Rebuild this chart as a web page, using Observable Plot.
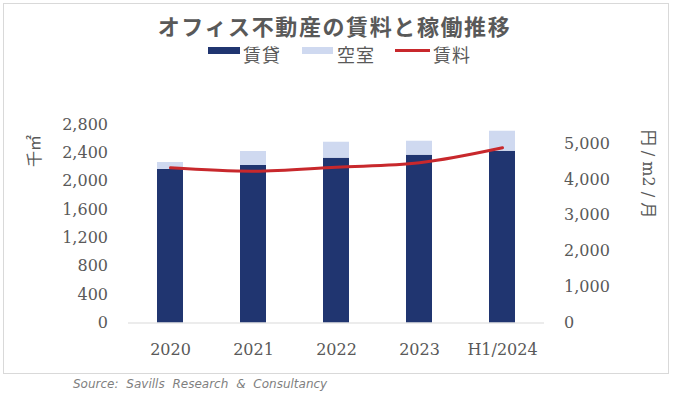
<!DOCTYPE html>
<html>
<head>
<meta charset="utf-8">
<script src="https://cdn.jsdelivr.net/npm/d3@7"></script>
<script src="https://cdn.jsdelivr.net/npm/@observablehq/plot@0.6"></script>
<style>
  html, body { margin: 0; padding: 0; background: #fff; }
  #wrap { position: relative; width: 674px; height: 398px; overflow: hidden; }
  #frame { position: absolute; left: 3px; top: 3px; width: 666px; height: 371px; box-sizing: border-box; border: 1px solid #d9d9d9; }
  .t { position: absolute; color: #595959; font-family: "Noto Sans CJK JP", sans-serif; white-space: nowrap; }
  #title { left: 0; width: 669px; top: 14px; text-align: center; font-size: 22px; line-height: 22px; font-weight: bold; letter-spacing: 1.6px; }
  .lg { font-size: 18px; line-height: 18px; top: 45px; letter-spacing: 1px; }
  .sw { position: absolute; }
  #chart { position: absolute; left: 0; top: 80px; }
  #ylab { left: 33px; top: 151px; font-size: 16px; transform: translate(-50%, -50%) rotate(-90deg); font-family: "DejaVu Serif", "Noto Sans CJK JP", serif; }
  #ylab2 { left: 650px; top: 174px; font-size: 16px; transform: translate(-50%, -50%) rotate(90deg); font-family: "DejaVu Serif", "Noto Sans CJK JP", serif; }
  #caption { left: 73px; top: 376px; font-family: "DejaVu Sans", sans-serif; font-style: italic; font-size: 12px; line-height: 16px; color: #7f7f7f; word-spacing: 4px; }
</style>
</head>
<body>
<div id="wrap">
  <div id="frame"></div>
  <div id="title" class="t">オフィス不動産の賃料と稼働推移</div>
  <div class="sw" style="left:208px;top:47px;width:32px;height:7px;background:#203570"></div>
  <div class="t lg" style="left:243px">賃貸</div>
  <div class="sw" style="left:302px;top:47px;width:31px;height:7px;background:#cfd9f0"></div>
  <div class="t lg" style="left:337px">空室</div>
  <div class="sw" style="left:395px;top:49px;width:35px;height:3px;background:#c8282c"></div>
  <div class="t lg" style="left:433px">賃料</div>
  <div id="chart"></div>
  <div id="ylab" class="t">千㎡</div>
  <div id="ylab2" class="t">円 / m2 / 月</div>
  <div id="caption" class="t">Source: Savills Research &amp; Consultancy</div>
</div>
<script>
// ---- data ----
const years = ["2020", "2021", "2022", "2023", "H1/2024"];
const leased = [2166, 2222, 2325, 2367, 2423];   // 賃貸 (千㎡)
const vacant = [98, 197, 225, 197, 282];        // 空室 (千㎡)
const rent = [4323, 4228, 4340, 4462, 4880];     // 賃料 (円/m2/月)
const leftTicks = [0, 400, 800, 1200, 1600, 2000, 2400, 2800];
const rightTicks = [0, 1000, 2000, 3000, 4000, 5000];
const seriesNames = ["賃貸", "空室", "賃料"];
const leftMax = 2800;
const rightMax = 5530;

// ---- build ----
const k = leftMax / rightMax;
const barRows = [];
years.forEach((y, i) => barRows.push({year: y, series: seriesNames[0], value: leased[i]}));
years.forEach((y, i) => barRows.push({year: y, series: seriesNames[1], value: vacant[i]}));
const rentRows = years.map((y, i) => ({year: y, rent: rent[i]}));
const fmt = d3.format(",");

const chart = Plot.plot({
  width: 674,
  height: 292,
  marginTop: 44,
  marginBottom: 49.5,
  marginLeft: 128,
  marginRight: 130,
  style: {fontFamily: "DejaVu Serif, serif", fontSize: "16px", color: "#595959", background: "transparent"},
  x: {domain: years, paddingInner: 0.69, paddingOuter: 0.345, tickSize: 0, tickPadding: 21, label: null},
  y: {domain: [0, leftMax], axis: null},
  color: {domain: seriesNames.slice(0, 2), range: ["#203570", "#cfd9f0"]},
  marks: [
    Plot.barY(barRows, {x: "year", y: "value", fill: "series", order: null}),
    Plot.ruleY([0], {stroke: "#d9d9d9", strokeWidth: 1}),
    Plot.line(rentRows, {x: "year", y: d => d.rent * k, stroke: "#c8282c", strokeWidth: 3, curve: "catmull-rom"}),
    Plot.text(leftTicks, {y: d => d, text: d => fmt(d), frameAnchor: "left", textAnchor: "end", dx: -20.5, fill: "#595959", fontSize: 16}),
    Plot.text(rightTicks, {y: d => d * k, text: d => fmt(d), frameAnchor: "right", textAnchor: "start", dx: 19.5, fill: "#595959", fontSize: 16})
  ]
});
document.getElementById("chart").appendChild(chart);
</script>
</body>
</html>
